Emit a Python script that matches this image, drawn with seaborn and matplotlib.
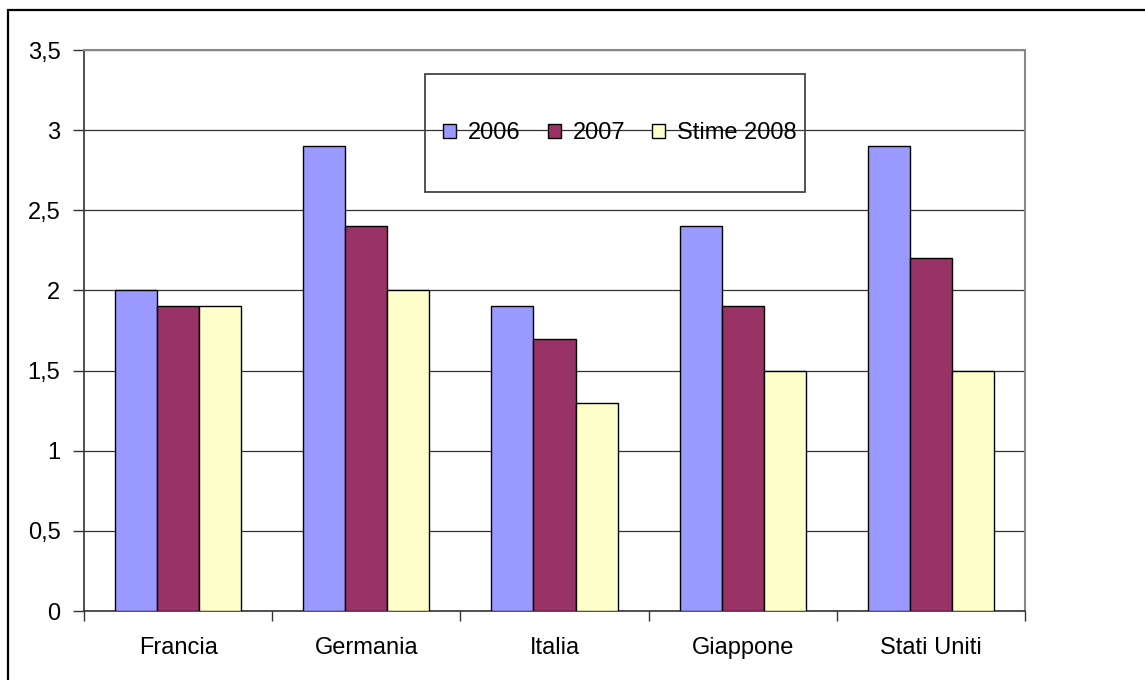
import matplotlib.pyplot as plt
import matplotlib.patches as mpatches
from matplotlib.ticker import FixedLocator
import seaborn as sns
import pandas as pd

# dati
paesi = ['Francia', 'Germania', 'Italia', 'Giappone', 'Stati Uniti']
serie = ['2006', '2007', 'Stime 2008']
v2006 = [2.0, 2.9, 1.9, 2.4, 2.9]
v2007 = [1.9, 2.4, 1.7, 1.9, 2.2]
v2008 = [1.9, 2.0, 1.3, 1.5, 1.5]
yticks = [0, 0.5, 1, 1.5, 2, 2.5, 3, 3.5]
ytick_labels = ['0', '0,5', '1', '1,5', '2', '2,5', '3', '3,5']
colori = ['#9999FF', '#993366', '#FFFFCC']

df = pd.DataFrame({
    'Paese': paesi * 3,
    'Serie': [serie[0]] * 5 + [serie[1]] * 5 + [serie[2]] * 5,
    'Valore': v2006 + v2007 + v2008,
})

sns.set_theme(style='white')
plt.rcParams['font.family'] = ['Liberation Sans', 'DejaVu Sans']
plt.rcParams['text.color'] = 'black'
plt.rcParams['xtick.labelcolor'] = 'black'
plt.rcParams['ytick.labelcolor'] = 'black'

fig = plt.figure(figsize=(11.45, 6.8), dpi=100)
ax = fig.add_axes([84 / 1145, 1 - 611 / 680, 941 / 1145, 561 / 680])

sns.barplot(ax=ax, data=df, x='Paese', y='Valore', hue='Serie', order=paesi,
            hue_order=serie, palette=colori, width=0.67, edgecolor='black',
            linewidth=1.0, saturation=1, legend=False, zorder=3)

ax.set_ylim(0, 3.5)
ax.set_xlim(-0.5, 4.5)
ax.set_yticks(yticks)
ax.set_yticklabels(ytick_labels, fontsize=17, color='black')
ax.set_xlabel('')
ax.set_ylabel('')
ax.tick_params(axis='x', which='major', length=0, pad=19, labelsize=17, labelcolor='black')
ax.tick_params(axis='y', length=8, width=1, color='#333333', pad=9, left=True)
ax.xaxis.set_minor_locator(FixedLocator([i - 0.5 for i in range(6)]))
ax.tick_params(axis='x', which='minor', length=7, width=1, color='#333333', bottom=True)

ax.yaxis.grid(True, color='#333333', linewidth=0.9, zorder=0)
ax.set_axisbelow(True)
for lato in ['left', 'bottom']:
    ax.spines[lato].set_color('#333333')
    ax.spines[lato].set_linewidth(1.2)
for lato in ['top', 'right']:
    ax.spines[lato].set_color('#888888')
    ax.spines[lato].set_linewidth(1.5)
    ax.spines[lato].set_visible(True)

# legenda senza cornice + riquadro disegnato a parte
handles = [mpatches.Patch(facecolor=c, edgecolor='black', linewidth=1) for c in colori]
ax.legend(handles, serie, ncol=3, frameon=False, loc='center',
          bbox_to_anchor=(620 / 1145, 1 - 133 / 680), bbox_transform=fig.transFigure,
          fontsize=17, handlelength=0.55, handleheight=0.55, handletextpad=0.5,
          columnspacing=1.15, labelcolor='black')
fig.patches.append(mpatches.Rectangle((425 / 1145, 1 - 192 / 680), 380 / 1145, 118 / 680,
                                      transform=fig.transFigure, facecolor='none',
                                      edgecolor='#444444', linewidth=1.3, zorder=5))

# cornice esterna del grafico (tagliata nell'immagine)
fig.patches.append(mpatches.Rectangle((8 / 1145, -0.2), 1.3, 1.2 - 10 / 680,
                                      transform=fig.transFigure, facecolor='none',
                                      edgecolor='black', linewidth=1.6))

fig.savefig('out.png', dpi=100)
